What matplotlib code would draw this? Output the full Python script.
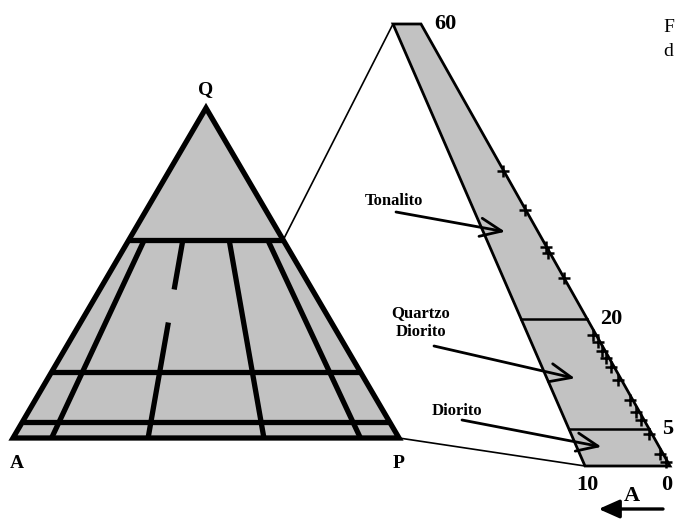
import matplotlib.pyplot as plt
from matplotlib.patches import Polygon

# QAP diagram: field boundaries (Q levels, P/(A+P) ratios in %)
q_levels = [60, 20, 5]
p_ratios = [10, 35, 65, 90]
gap_ratio = 35
gap_q = (35, 45)

# enlarged corner: Q from 0 to 60, A/(A+P) from 0 to 10
zoom_q_max = 60
zoom_a_max = 10
zoom_q_lines = [20, 5]
zoom_q_ticks = [60, 20, 5]
zoom_a_ticks = [10, 0]

# analysed samples (Q %, A/(A+P) %)
sample_q = [40.0, 34.8, 29.7, 28.9, 25.5, 17.8, 16.8, 15.6, 14.6, 13.4,
            11.7, 9.0, 7.3, 6.3, 4.3, 1.6, 0.5]
sample_a = [0.2, 0.1, 0.1, 0.3, 0.1, 0.4, 0.4, 0.4, 0.5, 0.5,
            0.5, 0.4, 0.5, 0.4, 0.4, 0.4, 0.2]

# field names and where their arrows point (Q %, A/(A+P) %)
field_names = ["Tonalito", "Quartzo\nDiorito", "Diorito"]
field_q = [31.8, 11.9, 2.6]
field_a = [6.0, 6.2, 7.0]

GRAY = "#c2c2c2"
SERIF = "Liberation Serif"

# layout of the two triangles (pixels)
XA, YB, W, H = 13, 438, 386, 330
ZY0, ZY1 = 466, 24
ZXR0, ZXR1 = 670, 421
ZXL0, ZXL1 = 585, 393


def tern(q, p_ratio):
    # q in %, p_ratio = P/(A+P) in %
    q = q / 100.0
    p = (1 - q) * p_ratio / 100.0
    return XA + (p + q / 2) * W, YB - q * H


def zoom_xy(q, a):
    f = q / zoom_q_max
    y = ZY0 - f * (ZY0 - ZY1)
    xr = ZXR0 + (ZXR1 - ZXR0) * f
    xl = ZXL0 + (ZXL1 - ZXL0) * f
    return xr + (xl - xr) * a / zoom_a_max, y


fig = plt.figure(figsize=(6.76, 5.19), dpi=100)
ax = fig.add_axes([0, 0, 1, 1])
ax.set_xlim(0, 676)
ax.set_ylim(519, 0)
ax.axis("off")

# left QAP triangle
corners = [tern(100, 0), tern(0, 0), tern(0, 100)]
ax.add_patch(Polygon(corners, closed=True, facecolor=GRAY, edgecolor="k",
                     lw=3.8, joinstyle="miter", zorder=2))
for q in q_levels:
    x0, y0 = tern(q, 0)
    x1, y1 = tern(q, 100)
    ax.plot([x0, x1], [y0, y1], color="k", lw=3.8, solid_capstyle="butt", zorder=3)
for r in p_ratios:
    if r == gap_ratio:
        spans = [(q_levels[0], gap_q[1]), (gap_q[0], 0)]
    else:
        spans = [(q_levels[0], 0)]
    for qa, qb in spans:
        x0, y0 = tern(qa, r)
        x1, y1 = tern(qb, r)
        ax.plot([x0, x1], [y0, y1], color="k", lw=3.8, solid_capstyle="butt", zorder=3)

lab = dict(fontsize=14, fontweight="bold", family=SERIF, ha="center", va="center")
qx, qy = tern(100, 0)
ax.text(qx, qy - 18, "Q", **lab)
ax.text(XA + 4, YB + 25, "A", **lab)
ax.text(XA + W, YB + 25, "P", **lab)

# lines linking the corner to its enlargement
x0, y0 = tern(zoom_q_max, 100)
x1, y1 = zoom_xy(zoom_q_max, zoom_a_max)
ax.plot([x0, x1], [y0, y1], color="k", lw=1.2, zorder=1)
x0, y0 = tern(0, 100)
x1, y1 = zoom_xy(0, zoom_a_max)
ax.plot([x0, x1], [y0, y1], color="k", lw=1.2, zorder=1)

# enlarged corner
zcorners = [zoom_xy(0, 0), zoom_xy(0, zoom_a_max),
            zoom_xy(zoom_q_max, zoom_a_max), zoom_xy(zoom_q_max, 0)]
ax.add_patch(Polygon(zcorners, closed=True, facecolor=GRAY, edgecolor="k",
                     lw=2.0, joinstyle="miter", zorder=2))
for q in zoom_q_lines:
    x0, y0 = zoom_xy(q, zoom_a_max)
    x1, y1 = zoom_xy(q, 0)
    ax.plot([x0, x1], [y0, y1], color="k", lw=1.8, zorder=3)

sx, sy = zip(*[zoom_xy(q, a) for q, a in zip(sample_q, sample_a)])
ax.plot(sx, sy, "+", color="k", ms=9, mew=1.8, zorder=4)

tick = dict(fontsize=16, fontweight="bold", family=SERIF, va="center")
for q in zoom_q_ticks:
    x, y = zoom_xy(q, 0)
    ax.text(x + 13, y, str(q), ha="left", **tick)
for a in zoom_a_ticks:
    x, y = zoom_xy(0, a)
    ax.text(min(x + 2, 667), y + 19, str(a), ha="center", **tick)

# A direction arrow under the enlargement
xa0, ya0 = zoom_xy(0, 0)
xa1, _ = zoom_xy(0, 8.4)
ax.annotate("", xy=(xa1, ya0 + 43), xytext=(xa0 - 7, ya0 + 43),
            arrowprops=dict(arrowstyle="-|>,head_length=0.9,head_width=0.4",
                            color="k", lw=2.4, mutation_scale=14,
                            shrinkA=0, shrinkB=0))
ax.text(632, ya0 + 30, "A", **dict(lab, fontsize=16))

# field labels with arrows
label_pos = [(394, 201), (421, 323), (457, 411)]
arrow_start = [(396, 212), (434, 346), (462, 420)]
for name, q, a, (lx, ly), start in zip(field_names, field_q, field_a,
                                        label_pos, arrow_start):
    ax.text(lx, ly, name, fontsize=12, fontweight="bold", family=SERIF,
            ha="center", va="center", linespacing=1.25)
    ax.annotate("", xy=zoom_xy(q, a), xytext=start,
                arrowprops=dict(arrowstyle="->,head_length=0.7,head_width=0.3",
                                color="k", lw=2.0, mutation_scale=22,
                                shrinkA=0, shrinkB=0), zorder=5)

# running page text at the right margin
ax.text(663, 27, "F", fontsize=14, family=SERIF, ha="left", va="center")
ax.text(663, 52, "d", fontsize=14, family=SERIF, ha="left", va="center")

fig.savefig("out.png", dpi=100)
